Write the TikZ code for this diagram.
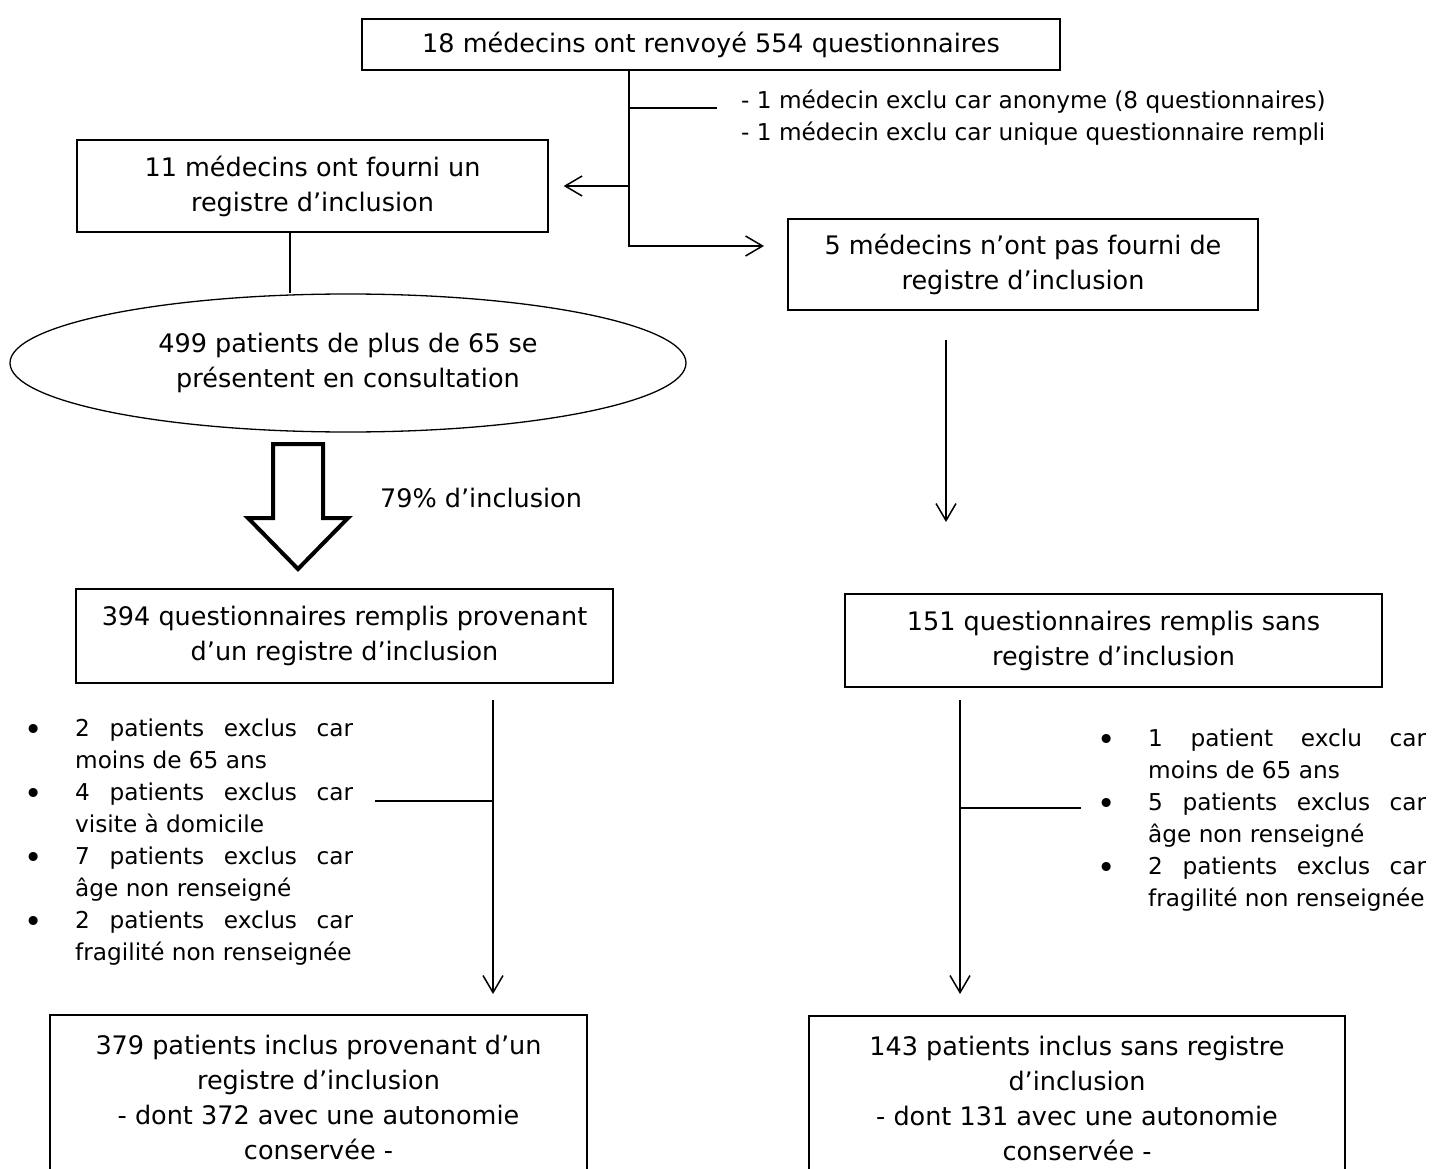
\documentclass[tikz,border=0pt]{standalone}
\usepackage{fontspec}
\setmainfont{DejaVu Sans}
\usetikzlibrary{arrows.meta,shapes.geometric}
\newcommand\myBig{\fontsize{25.5}{35}\selectfont}
\newcommand\mySmall{\fontsize{23.2}{32}\selectfont}
\newcommand\mybullet{\raisebox{-4pt}{\fontsize{31}{32}\selectfont •}}
\newcommand\bl[1]{\strut\makebox[51pt][l]{\mybullet}\makebox[278pt][s]{#1}}
\newcommand\ct[1]{\strut\hspace*{51pt}#1}
\tikzset{
  box/.style={draw, line width=1.3pt, inner sep=0pt, align=center, font=\myBig},
  thickbox/.style={box, line width=2pt},
  conn/.style={line width=1.5pt},
  arr/.style={conn, -{Straight Barb[length=17pt,width=20pt]}},
  lst/.style={inner sep=0pt, align=left, font=\mySmall, anchor=north west},
}
\begin{document}
\begin{tikzpicture}[x=1pt,y=-1pt]
\useasboundingbox (0,0) rectangle (1446,1169);
\clip (0,0) rectangle (1446,1169);

% boxes
\node[box, minimum width=698pt, minimum height=51pt] (top) at (711,44.5) {18 médecins ont renvoyé 554 questionnaires};
\node[box, minimum width=471pt, minimum height=92pt] (b11) at (312.5,186) {11 médecins ont fourni un\\registre d’inclusion};
\node[box, minimum width=470pt, minimum height=91pt] (b5) at (1023,264.5) {5 médecins n’ont pas fourni de\\registre d’inclusion};
\node[draw, ellipse, line width=1.3pt, inner sep=0pt, align=center, font=\myBig,
      minimum width=676pt, minimum height=138pt] (ell) at (348,363) {499 patients de plus de 65 se\\présentent en consultation};
\node[thickbox, minimum width=537pt, minimum height=94pt] (b394) at (344.5,636) {394 questionnaires remplis provenant\\d’un registre d’inclusion};
\node[thickbox, minimum width=537pt, minimum height=93pt] (b151) at (1113.5,640.5) {151 questionnaires remplis sans\\registre d’inclusion};
\node[thickbox, minimum width=537pt, minimum height=165pt] (b379) at (318.5,1097.5) {379 patients inclus provenant d’un\\registre d’inclusion\\- dont 372 avec une autonomie\\conservée -};
\node[thickbox, minimum width=536pt, minimum height=165pt] (b143) at (1077,1098) {143 patients inclus sans registre\\d’inclusion\\- dont 131 avec une autonomie\\conservée -};

% texts
\node[lst] (texcl) at (741,85.6) {\strut- 1 médecin exclu car anonyme (8 questionnaires)\\\strut- 1 médecin exclu car unique questionnaire rempli};
\node[anchor=west, inner sep=0pt, font=\myBig] (pct) at (380,498) {79\% d’inclusion};
\node[lst] (lexcl) at (24,713.6) {\bl{2 patients exclus car}\\\ct{moins de 65 ans}\\\bl{4 patients exclus car}\\\ct{visite à domicile}\\\bl{7 patients exclus car}\\\ct{âge non renseigné}\\\bl{2 patients exclus car}\\\ct{fragilité non renseignée}};
\node[lst] (rexcl) at (1097,723.6) {\bl{1 patient exclu car}\\\ct{moins de 65 ans}\\\bl{5 patients exclus car}\\\ct{âge non renseigné}\\\bl{2 patients exclus car}\\\ct{fragilité non renseignée}};

% junction coordinates
\coordinate (jx) at (629,108);
\coordinate (xend) at (717,108);
\coordinate (j1) at (629,186);
\coordinate (j2) at (629,246);
\coordinate (a5) at (764,246);
\coordinate (c290) at (290,0);
\coordinate (d5s) at (946,340);
\coordinate (d5e) at (946,522);
\coordinate (l1) at (493,700);
\coordinate (l2) at (493,994);
\coordinate (lh) at (493,801);
\coordinate (lhe) at (375,801);
\coordinate (r1) at (960,700);
\coordinate (r2) at (960,994);
\coordinate (rh) at (960,808);
\coordinate (rhe) at (1081,808);

% connectors
\draw[arr] (top.south -| j2) -- (j2) -- (a5);
\draw[arr] (j1) -- ([xshift=15pt]b11.east);
\draw[conn] (jx) -- (xend);
\draw[conn] (b11.south -| c290) -- (ell.north -| c290);
\draw[arr] (d5s) -- (d5e);
\draw[arr] (l1) -- (l2);
\draw[conn] (lh) -- (lhe);
\draw[arr] (r1) -- (r2);
\draw[conn] (rh) -- (rhe);

% hollow block arrow
\draw[line width=4pt, miter limit=10] (273,444) -- (323,444) -- (323,518) -- (348,518) -- (298,569) -- (248,518) -- (273,518) -- cycle;
\end{tikzpicture}
\end{document}
